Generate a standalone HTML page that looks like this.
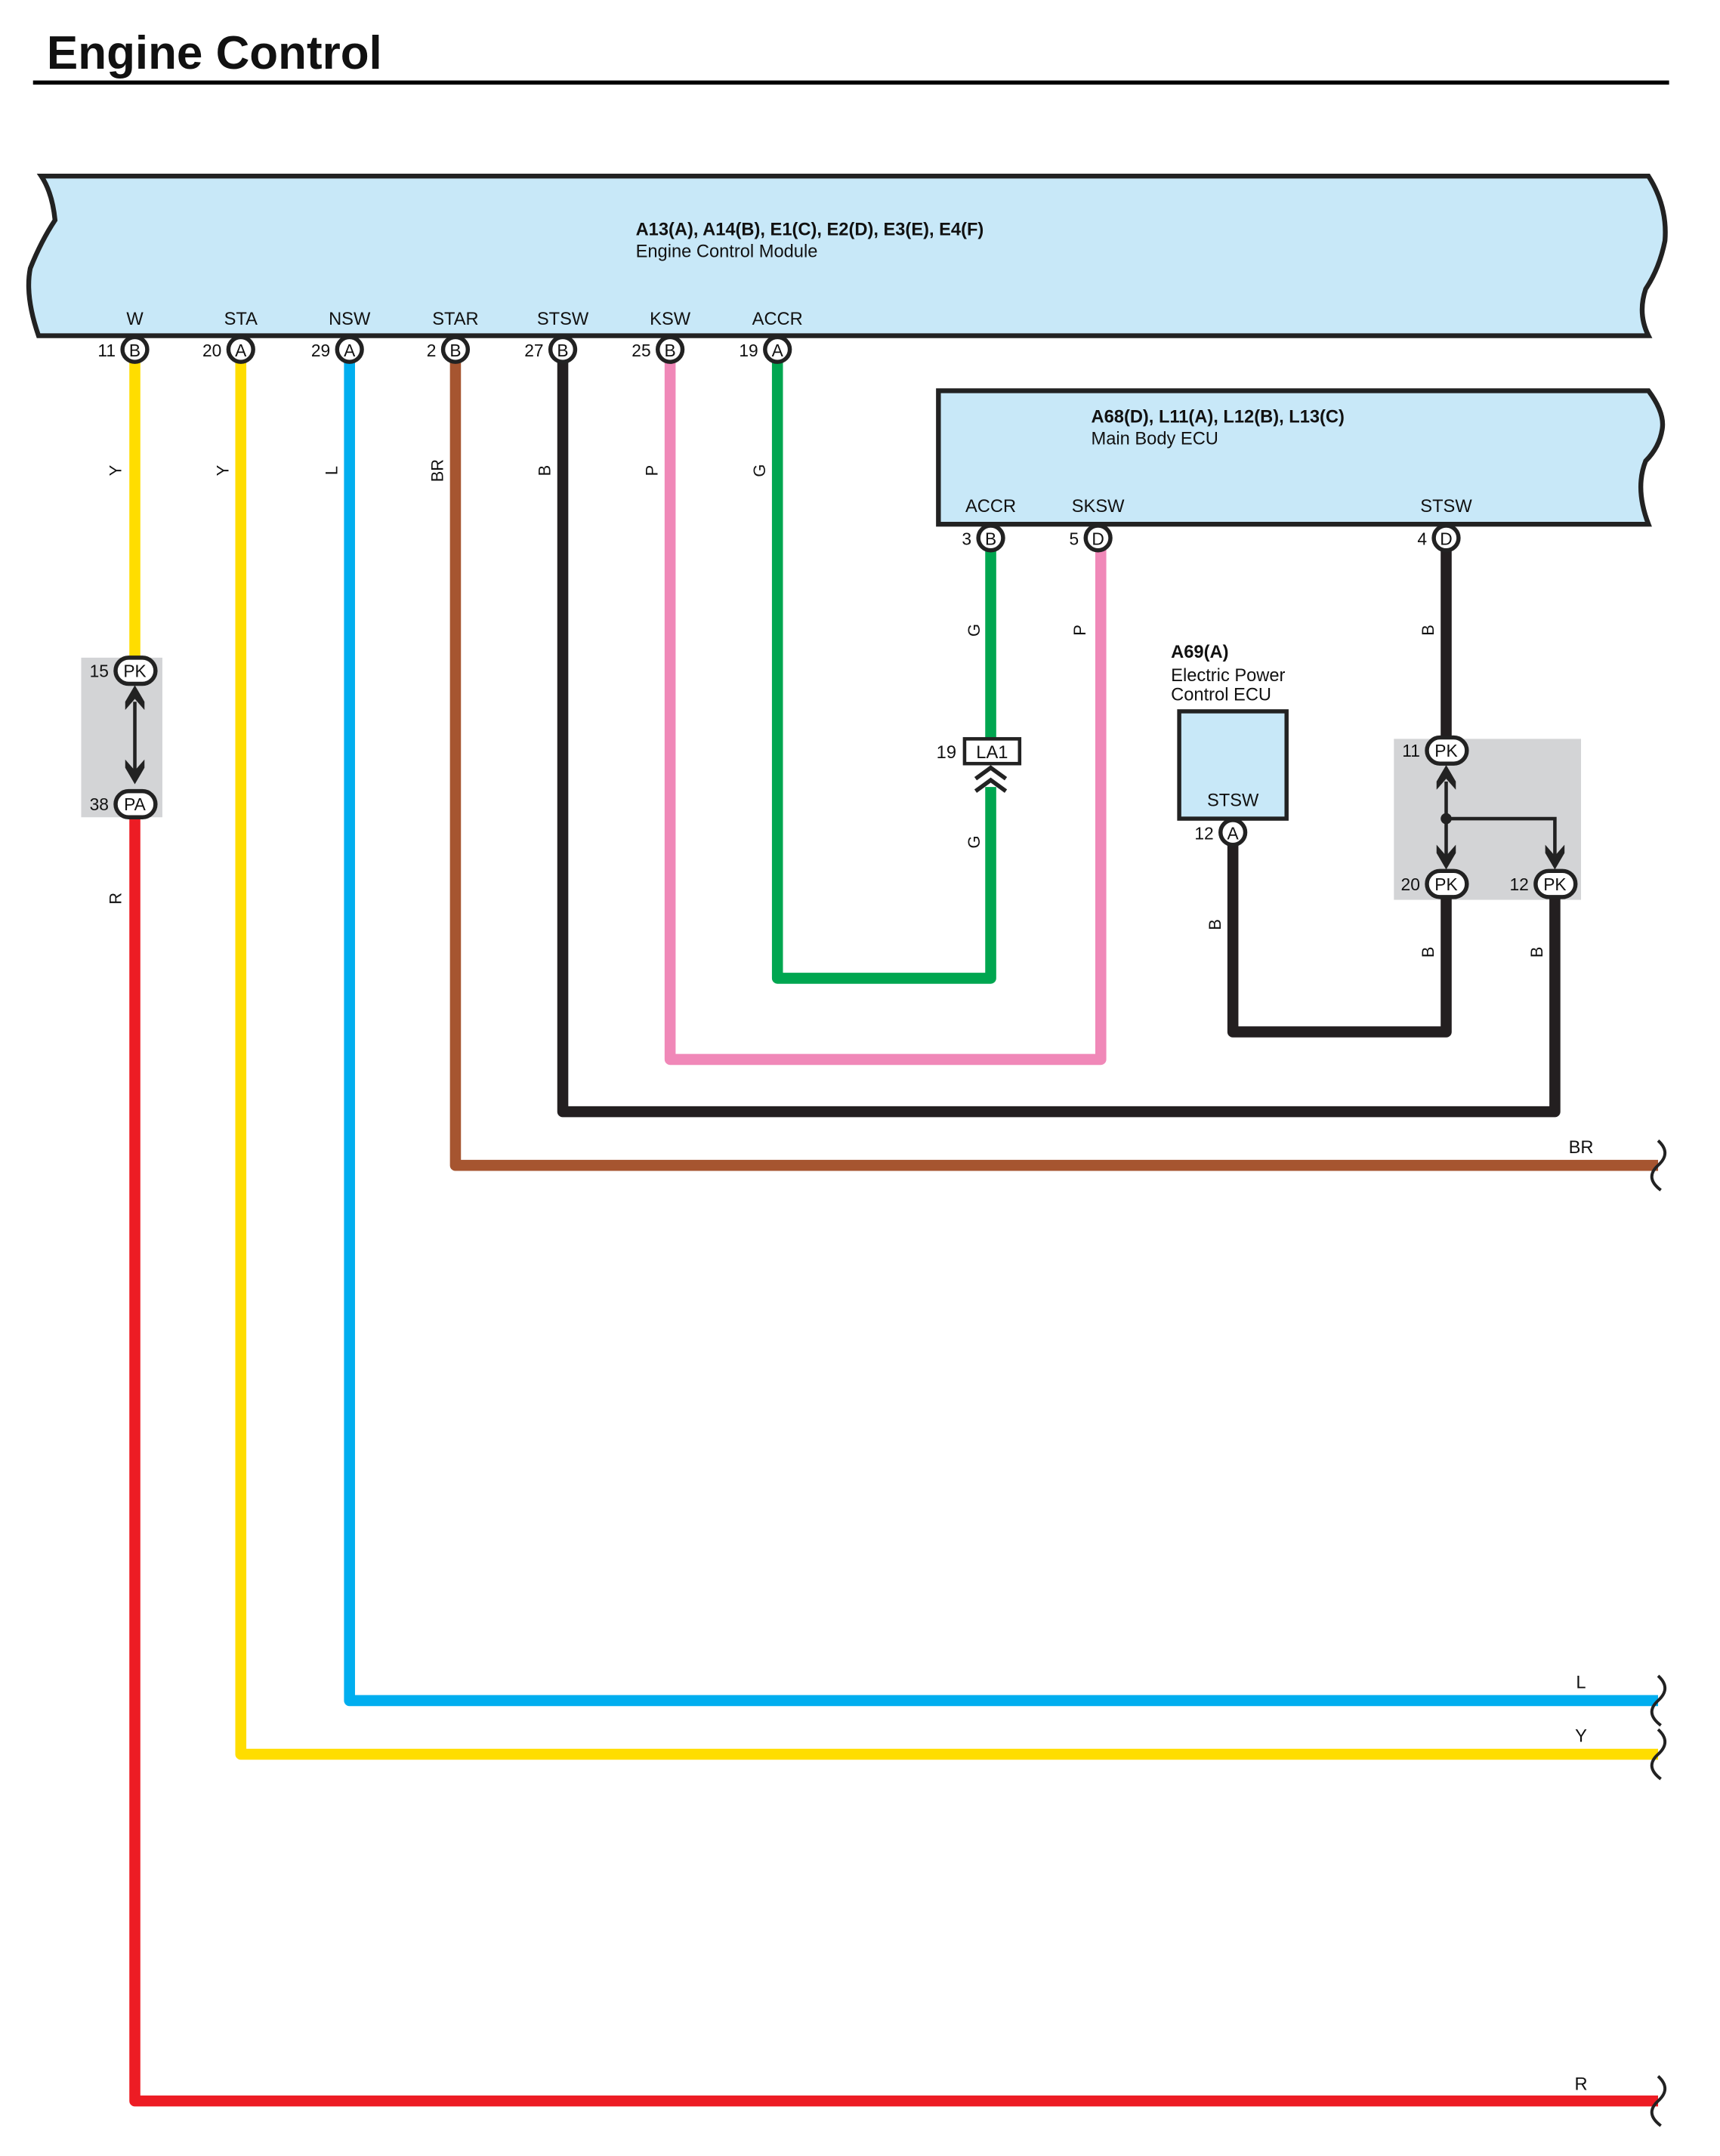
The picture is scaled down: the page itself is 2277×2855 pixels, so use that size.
<!DOCTYPE html>
<html><head><meta charset="utf-8"><style>
html,body{margin:0;padding:0;background:#fff}
svg{display:block}
text{font-family:"Liberation Sans",sans-serif;fill:#111}
</style></head><body>
<svg width="2277" height="2855" viewBox="0 0 1250 1567" preserveAspectRatio="none" xmlns="http://www.w3.org/2000/svg">
<text x="34" y="50" font-size="34" font-weight="bold">Engine Control</text>
<rect x="24" y="58.5" width="1189" height="3" fill="#000"/>

<path d="M30,128 L1198,128 Q1212,150 1210,175 Q1206,195 1196,210 Q1190,228 1198,244 L28,244 Q18,215 22,195 Q30,175 40,160 Q38,140 30,128 Z" fill="#c8e8f8" stroke="#222" stroke-width="3.5"/>
<text x="462" y="171" font-size="13" font-weight="bold">A13(A), A14(B), E1(C), E2(D), E3(E), E4(F)</text>
<text x="462" y="187" font-size="13">Engine Control Module</text>
<g font-size="13" text-anchor="middle">
<text x="98" y="236">W</text><text x="175" y="236">STA</text><text x="254" y="236">NSW</text><text x="331" y="236">STAR</text><text x="409" y="236">STSW</text><text x="487" y="236">KSW</text><text x="565" y="236">ACCR</text>
</g>

<path d="M682,284 L1198,284 Q1210,300 1208,312 Q1206,325 1196,335 Q1188,355 1198,381 L682,381 Z" fill="#c8e8f8" stroke="#222" stroke-width="3.5"/>
<text x="793" y="307" font-size="13" font-weight="bold">A68(D), L11(A), L12(B), L13(C)</text>
<text x="793" y="323" font-size="13">Main Body ECU</text>
<g font-size="13" text-anchor="middle">
<text x="720" y="372">ACCR</text><text x="798" y="372">SKSW</text><text x="1051" y="372">STSW</text>
</g>

<rect x="59" y="478" width="59" height="116" fill="#d3d4d6"/>
<rect x="1013" y="537" width="136" height="117" fill="#d3d4d6"/>

<text x="851" y="478" font-size="13" font-weight="bold">A69(A)</text>
<text x="851" y="495" font-size="13">Electric Power</text>
<text x="851" y="509" font-size="13">Control ECU</text>
<rect x="857" y="517" width="78" height="78" fill="#c8e8f8" stroke="#222" stroke-width="3"/>
<text x="896" y="586" font-size="13" text-anchor="middle">STSW</text>

<g fill="none" stroke-width="8" stroke-linejoin="round">
<path d="M98,262 L98,478" stroke="#ffdd00"/>
<path d="M98,594 L98,1527 L1205,1527" stroke="#ed1c24"/>
<path d="M175,262 L175,1275 L1205,1275" stroke="#ffdd00"/>
<path d="M254,262 L254,1236 L1205,1236" stroke="#00aeef"/>
<path d="M331,262 L331,847 L1205,847" stroke="#a65530"/>
<path d="M409,262 L409,808 L1130,808 L1130,652" stroke="#231f20"/>
<path d="M487,262 L487,770 L800,770 L800,399" stroke="#f088b8"/>
<path d="M565,262 L565,711 L720,711 L720,572" stroke="#00a650"/>
<path d="M720,399 L720,537" stroke="#00a650"/>
<path d="M1051,399 L1051,537" stroke="#231f20"/>
<path d="M896,613 L896,750 L1051,750 L1051,652" stroke="#231f20"/>
</g>

<g stroke="#222" stroke-width="2.5" fill="none">
<path d="M98,510 L98,562"/>
<path d="M1051,568 L1051,622 M1051,595 L1130,595 L1130,622"/>
</g>
<g fill="#222">
<path d="M91,510 L98,498 L105,510 L105,516 L98,508 L91,516Z"/>
<path d="M91,558 L98,570 L105,558 L105,552 L98,560 L91,552Z"/>
<path d="M1044,568 L1051,556 L1058,568 L1058,574 L1051,566 L1044,574Z"/>
<path d="M1044,620 L1051,632 L1058,620 L1058,614 L1051,622 L1044,614Z"/>
<path d="M1123,620 L1130,632 L1137,620 L1137,614 L1130,622 L1123,614Z"/>
<circle cx="1051" cy="595" r="4"/>
</g>

<rect x="701" y="537" width="40" height="18" fill="#fff" stroke="#222" stroke-width="2.5"/>
<text x="721" y="551" font-size="13" text-anchor="middle">LA1</text>
<text x="695" y="551" font-size="13" text-anchor="end">19</text>
<path d="M709,566 L720,558 L731,566 M709,575 L720,567 L731,575" stroke="#222" stroke-width="3" fill="none"/>

<g font-size="12.5">
<g fill="#fff" stroke="#222" stroke-width="3">
<circle cx="98" cy="254" r="9"/><circle cx="175" cy="254" r="9"/><circle cx="254" cy="254" r="9"/><circle cx="331" cy="254" r="9"/><circle cx="409" cy="254" r="9"/><circle cx="487" cy="254" r="9"/><circle cx="565" cy="254" r="9"/>
<circle cx="720" cy="391" r="9"/><circle cx="798" cy="391" r="9"/><circle cx="1051" cy="391" r="9"/><circle cx="896" cy="605" r="9"/>
<rect x="84" y="478" width="29" height="19" rx="9.5"/><rect x="84" y="575" width="29" height="19" rx="9.5"/>
<rect x="1037" y="536" width="29" height="19" rx="9.5"/><rect x="1037" y="633" width="29" height="19" rx="9.5"/><rect x="1116" y="633" width="29" height="19" rx="9.5"/>
</g>
<g text-anchor="middle">
<text x="98" y="259">B</text><text x="175" y="259">A</text><text x="254" y="259">A</text><text x="331" y="259">B</text><text x="409" y="259">B</text><text x="487" y="259">B</text><text x="565" y="259">A</text>
<text x="720" y="396">B</text><text x="798" y="396">D</text><text x="1051" y="396">D</text><text x="896" y="610">A</text>
<text x="98" y="492">PK</text><text x="98" y="589">PA</text>
<text x="1051" y="550">PK</text><text x="1051" y="647">PK</text><text x="1130" y="647">PK</text>
</g>
<g text-anchor="end">
<text x="84" y="259">11</text><text x="161" y="259">20</text><text x="240" y="259">29</text><text x="317" y="259">2</text><text x="395" y="259">27</text><text x="473" y="259">25</text><text x="551" y="259">19</text>
<text x="706" y="396">3</text><text x="784" y="396">5</text><text x="1037" y="396">4</text><text x="882" y="610">12</text>
<text x="79" y="492">15</text><text x="79" y="589">38</text>
<text x="1032" y="550">11</text><text x="1032" y="647">20</text><text x="1111" y="647">12</text>
</g>
</g>

<g font-size="12" text-anchor="middle">
<text transform="translate(88,342) rotate(-90)">Y</text>
<text transform="translate(166,342) rotate(-90)">Y</text>
<text transform="translate(245,342) rotate(-90)">L</text>
<text transform="translate(322,342) rotate(-90)">BR</text>
<text transform="translate(400,342) rotate(-90)">B</text>
<text transform="translate(478,342) rotate(-90)">P</text>
<text transform="translate(556,342) rotate(-90)">G</text>
<text transform="translate(88,653) rotate(-90)">R</text>
<text transform="translate(712,458) rotate(-90)">G</text>
<text transform="translate(712,612) rotate(-90)">G</text>
<text transform="translate(789,458) rotate(-90)">P</text>
<text transform="translate(1042,458) rotate(-90)">B</text>
<text transform="translate(887,672) rotate(-90)">B</text>
<text transform="translate(1042,692) rotate(-90)">B</text>
<text transform="translate(1121,692) rotate(-90)">B</text>
</g>
<g font-size="13" text-anchor="middle">
<text x="1149" y="838">BR</text><text x="1149" y="1227">L</text><text x="1149" y="1266">Y</text><text x="1149" y="1519">R</text>
</g>

<g stroke="#222" stroke-width="2.2" fill="none">
<path d="M1205,829 q10,9 0,18 q-10,9 2,18"/>
<path d="M1205,1218 q10,9 0,18 q-10,9 2,18"/>
<path d="M1205,1257 q10,9 0,18 q-10,9 2,18"/>
<path d="M1205,1509 q10,9 0,18 q-10,9 2,18"/>
</g>
</svg>
</body></html>
